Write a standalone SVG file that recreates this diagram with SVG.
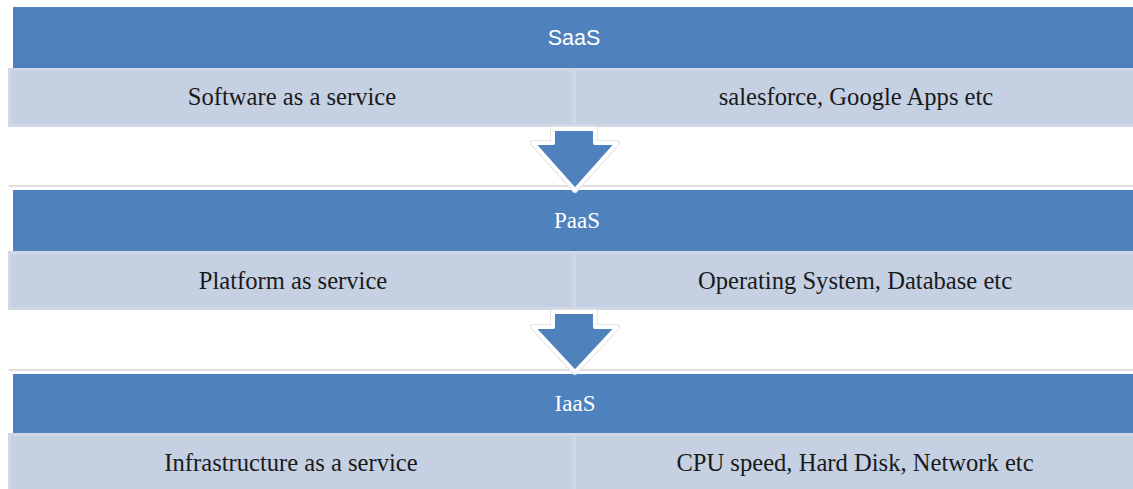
<svg xmlns="http://www.w3.org/2000/svg" width="1133" height="489" viewBox="0 0 1133 489">
<style>
.hdr{fill:#4f81bd}
.row{fill:#c5d0e3;stroke:#d0d8e8;stroke-width:3}
.div{fill:#cfd7e7}
.sep{stroke:#d4d4d4;stroke-width:1.5}
.ht{font-family:"Liberation Serif",serif;font-size:23px;fill:#ffffff;text-anchor:middle}
.hs{font-family:"Liberation Sans",sans-serif;font-size:21.5px;fill:#ffffff;text-anchor:middle}
.bt{font-family:"Liberation Serif",serif;font-size:24.6px;fill:#1a1a1a;text-anchor:middle}
.arr{fill:#4f81bd;stroke:#ffffff;stroke-width:4;stroke-linejoin:round}
.arrb{fill:none;stroke:#e4e4e4;stroke-width:6;stroke-linejoin:round}
</style>
<rect width="1133" height="489" fill="#ffffff"/>
<g id="separators">
<line class="sep" x1="9" y1="186" x2="1133" y2="186"/>
<line class="sep" x1="9" y1="370" x2="1133" y2="370"/>
</g>
<g id="saas">
<rect class="hdr" x="13" y="7" width="1120" height="61"/>
<text class="hs" x="574" y="45">SaaS</text>
<rect class="row" x="9.5" y="69.5" width="1125" height="56"/>
<rect class="div" x="572" y="70" width="4" height="55"/>
<text class="bt" x="292" y="105">Software as a service</text>
<text class="bt" x="856" y="105">salesforce, Google Apps etc</text>
</g>
<g id="paas">
<rect class="hdr" x="13" y="190" width="1120" height="61"/>
<text class="ht" x="577" y="228">PaaS</text>
<rect class="row" x="9.5" y="252.5" width="1125" height="56"/>
<rect class="div" x="572" y="253" width="4" height="55"/>
<text class="bt" x="293" y="289">Platform as service</text>
<text class="bt" x="855" y="289">Operating System, Database etc</text>
</g>
<g id="iaas">
<rect class="hdr" x="13" y="374" width="1120" height="59"/>
<text class="ht" x="575" y="411">IaaS</text>
<rect class="row" x="9.5" y="434.5" width="1125" height="56"/>
<rect class="div" x="572" y="435" width="4" height="54"/>
<text class="bt" x="291" y="471">Infrastructure as a service</text>
<text class="bt" x="855" y="471">CPU speed, Hard Disk, Network etc</text>
</g>
<g id="connectors">
<path class="arrb" d="M553,129 L595,129 L595,143 L617,143 L575,190 L533,143 L553,143 Z"/>
<path class="arr" d="M553,129 L595,129 L595,143 L617,143 L575,190 L533,143 L553,143 Z"/>
<path class="arrb" d="M553,312 L595,312 L595,327 L617,327 L575,372 L533,327 L553,327 Z"/>
<path class="arr" d="M553,312 L595,312 L595,327 L617,327 L575,372 L533,327 L553,327 Z"/>
</g>
</svg>
